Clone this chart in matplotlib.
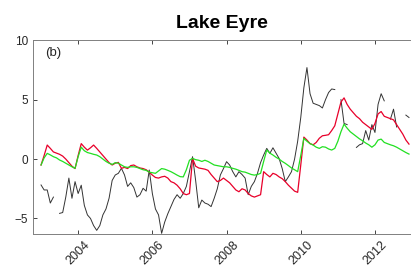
import numpy as np
import matplotlib.pyplot as plt

plt.rcParams['font.family'] = ['Liberation Sans', 'DejaVu Sans']

nan = np.nan

# monthly values, Jan 2003 .. Dec 2012
start_year = 2003
n_months = 120

red = [
    -0.5, 0.3, 1.18, 0.9, 0.6, 0.5, 0.4, 0.25, 0.0, -0.3, -0.6, -0.8,
    0.3, 1.3, 1.0, 0.75, 0.95, 1.18, 0.9, 0.6, 0.3, 0.0, -0.3, -0.5,
    -0.35, -0.28, -0.78, -0.7, -0.8, -0.55, -0.5, -0.65, -0.75, -0.8, -0.9, -1.1,
    -1.35, -1.55, -1.6, -1.5, -1.45, -1.6, -1.9, -2.0, -2.2, -2.5, -2.9, -3.0,
    -2.9, 0.05, -0.6, -0.75, -0.8, -0.85, -0.95, -1.3, -1.6, -1.9, -1.8, -1.6,
    -1.8, -2.0, -2.3, -2.6, -2.75, -2.5, -2.6, -2.9, -3.1, -3.2, -3.1, -3.0,
    -1.06, -1.3, -1.5, -1.2, -1.3, -1.5, -1.65, -1.9, -2.2, -2.45, -2.7, -2.8,
    -0.5, 1.85, 1.6, 1.3, 1.2, 1.4, 1.75, 1.96, 2.0, 2.05, 2.4, 2.8,
    3.8, 4.8, 5.15, 4.6, 4.2, 3.9, 3.6, 3.4, 3.1, 2.9, 2.7, 2.5,
    3.0, 3.8, 4.0, 3.6, 3.5, 3.4, 3.3, 2.9, 2.5, 2.1, 1.6, 1.26,
]

green = [
    -0.5, 0.1, 0.48, 0.35, 0.2, 0.1, -0.08, -0.2, -0.35, -0.5, -0.65, -0.78,
    0.2, 1.0, 0.7, 0.55, 0.48, 0.4, 0.34, 0.2, 0.0, -0.2, -0.35, -0.45,
    -0.3, -0.35, -0.5, -0.65, -0.7, -0.65, -0.65, -0.7, -0.8, -0.9, -0.95, -1.1,
    -1.15, -1.2, -1.0, -0.8, -0.85, -0.95, -1.06, -1.2, -1.35, -1.48, -1.5, -0.9,
    -0.1, 0.06, -0.05, -0.1, -0.2, -0.1, -0.2, -0.35, -0.5, -0.55, -0.6, -0.65,
    -0.65, -0.7, -0.78, -0.85, -0.95, -1.06, -1.1, -1.2, -1.3, -1.35, -1.3, -1.2,
    -0.2, 0.76, 0.5, 0.34, 0.15, 0.0, -0.2, -0.36, -0.55, -0.75, -0.9, -1.06,
    0.3, 1.74, 1.5, 1.3, 1.18, 1.0, 0.9, 1.04, 1.0, 0.85, 0.76, 0.9,
    1.5, 2.3, 2.94, 2.6, 2.3, 2.1, 1.9, 1.7, 1.54, 1.35, 1.2, 1.0,
    1.2, 1.6, 1.68, 1.4, 1.3, 1.2, 1.12, 1.0, 0.85, 0.7, 0.55, 0.42,
]

black = [
    -2.18, -2.6, -2.6, -3.7, -3.2, nan, -4.57, -4.5, -3.2, -1.6, -3.3, -1.9,
    -2.9, -2.2, -3.9, -4.7, -5.0, -5.6, -6.0, -5.6, -4.7, -4.2, -3.3, -1.8,
    -1.34, -1.2, -0.78, -1.34, -2.3, -2.0, -2.4, -3.2, -3.0, -2.46, -2.7, -0.92,
    -2.9, -4.2, -4.7, -6.25, -5.3, -4.6, -4.0, -3.4, -3.0, -3.3, -2.9, -2.3,
    -1.06, 0.2, -1.8, -4.1, -3.45, -3.7, -3.8, -4.0, -3.3, -2.5, -1.34, -0.8,
    -0.22, -0.5, -1.06, -1.5, -1.06, -1.3, -1.6, -3.0, -2.3, -1.9, -1.2, -0.3,
    0.34, 0.9, 0.48, 0.95, 0.5, 0.05, -0.8, -1.9, -1.5, -1.06, 0.0, 1.5,
    3.5, 6.0, 7.7, 5.5, 4.7, 4.6, 4.5, 4.3, 5.0, 5.6, 5.9, 5.85,
    nan, 5.0, 3.0, 2.9, nan, nan, 0.98, 1.2, 1.3, 2.4, 1.6, 2.9,
    2.24, 4.6, 5.5, 4.9, nan, 3.36, 4.2, 2.7, nan, nan, 3.7, 3.5,
]

t = start_year + np.arange(n_months) / 12

fig = plt.figure(figsize=(4.11, 2.72), dpi=100)
ax = fig.add_axes([0.080, 0.140, 0.919, 0.712])

ax.plot(t, black, color='#333333', lw=0.7)
ax.plot(t, red, color='#e8002a', lw=0.9)
ax.plot(t, green, color='#22e022', lw=0.9)

ax.set_xlim(2002.78, 2012.96)
ax.set_ylim(-6.3, 10)
ax.set_xticks([2004, 2006, 2008, 2010, 2012])
ax.set_yticks([-5, 0, 5, 10])
ax.tick_params(direction='in', top=True, right=False, length=3,
               labelsize=8.5, colors='#262626', width=0.6)
ax.tick_params(axis='x', labelsize=9)
for lab in ax.get_xticklabels():
    lab.set_rotation(45)
for s in ax.spines.values():
    s.set_color('#808080')
    s.set_linewidth(0.7)

ax.text(0.032, 0.965, '(b)', transform=ax.transAxes, fontsize=9.5,
        va='top', ha='left', color='#262626')
ax.set_title('Lake Eyre', fontsize=14, fontweight='bold', pad=8.5)

fig.savefig('out.png', dpi=100)
